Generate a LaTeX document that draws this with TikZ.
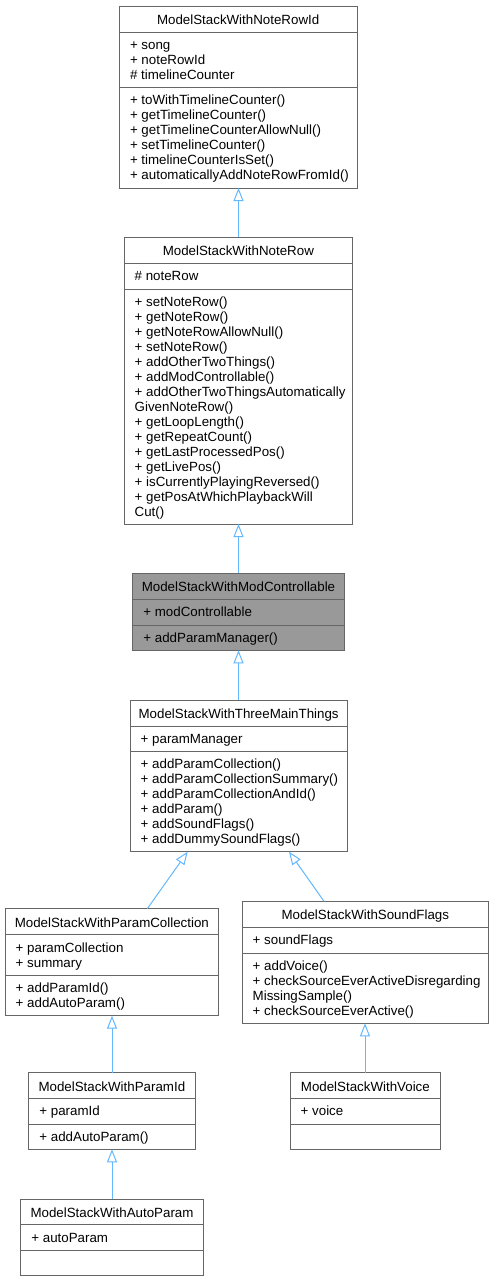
\documentclass[tikz,border=0pt]{standalone}
\usepackage{fontspec}
\usetikzlibrary{arrows.meta}
\newfontfamily\cfontfam{Liberation Sans}
\newcommand\cfont{\cfontfam\fontsize{13.33}{15}\selectfont}
\definecolor{boxgray}{HTML}{666666}
\definecolor{hlfill}{HTML}{999999}
\definecolor{edgeblue}{HTML}{63B8FF}
\begin{document}
\begin{tikzpicture}[x=1pt,y=-1pt,
  cbox/.style={draw=boxgray, line width=1pt, inner sep=0pt, outer sep=0pt, anchor=north west},
  divider/.style={draw=boxgray, line width=1pt},
  ctitle/.style={anchor=base, inner sep=0pt, font=\cfont, text=black},
  member/.style={anchor=base west, inner sep=0pt, font=\cfont, text=black},
  inh/.style={draw=edgeblue, line width=1pt, -{Triangle[open, fill=white, length=13pt, width=10pt]}}]
\useasboundingbox (0,0) rectangle (494,1282);
\fill[white] (0,0) rectangle (494,1282);

% ---------- B1 ModelStackWithNoteRowId
\node[cbox, minimum width=237.7pt, minimum height=182pt, fill=white] (b1) at (119.3,6) {};
\draw[divider] (119.3,32) -- (357,32);
\draw[divider] (119.3,87) -- (357,87);
\node[ctitle] (b1t) at (238.15,24.5) {ModelStackWithNoteRowId};
\node[member] (b1a1) at (129.8,49.5) {+ song};
\node[member] (b1a2) at (129.8,64.5) {+ noteRowId};
\node[member] (b1a3) at (129.8,79.5) {\# timelineCounter};
\node[member] (b1m1) at (129.8,104.5) {+ toWithTimelineCounter()};
\node[member] (b1m2) at (129.8,119.5) {+ getTimelineCounter()};
\node[member] (b1m3) at (129.8,134.5) {+ getTimelineCounterAllowNull()};
\node[member] (b1m4) at (129.8,149.5) {+ setTimelineCounter()};
\node[member] (b1m5) at (129.8,164.5) {+ timelineCounterIsSet()};
\node[member] (b1m6) at (129.8,179.5) {+ automaticallyAddNoteRowFromId()};

% ---------- B2 ModelStackWithNoteRow
\node[cbox, minimum width=228.7pt, minimum height=286.7pt, fill=white] (b2) at (124,237.3) {};
\draw[divider] (124,263.3) -- (352.7,263.3);
\draw[divider] (124,289) -- (352.7,289);
\node[ctitle] (b2t) at (238.35,255.8) {ModelStackWithNoteRow};
\node[member] (b2a1) at (134.5,280.8) {\# noteRow};
\node[member] (b2m1) at (134.5,306.5) {+ setNoteRow()};
\node[member] (b2m2) at (134.5,321.5) {+ getNoteRow()};
\node[member] (b2m3) at (134.5,336.5) {+ getNoteRowAllowNull()};
\node[member] (b2m4) at (134.5,351.5) {+ setNoteRow()};
\node[member] (b2m5) at (134.5,366.5) {+ addOtherTwoThings()};
\node[member] (b2m6) at (134.5,381.5) {+ addModControllable()};
\node[member] (b2m7) at (134.5,396.5) {+ addOtherTwoThingsAutomatically};
\node[member] (b2m8) at (134.5,411.5) {GivenNoteRow()};
\node[member] (b2m9) at (134.5,426.5) {+ getLoopLength()};
\node[member] (b2m10) at (134.5,441.5) {+ getRepeatCount()};
\node[member] (b2m11) at (134.5,456.5) {+ getLastProcessedPos()};
\node[member] (b2m12) at (134.5,471.5) {+ getLivePos()};
\node[member] (b2m13) at (134.5,486.5) {+ isCurrentlyPlayingReversed()};
\node[member] (b2m14) at (134.5,501.5) {+ getPosAtWhichPlaybackWill};
\node[member] (b2m15) at (134.5,516.5) {Cut()};

% ---------- B3 ModelStackWithModControllable (highlighted)
\node[cbox, minimum width=211.6pt, minimum height=77pt, fill=hlfill] (b3) at (132.7,573.3) {};
\draw[divider] (132.7,599.3) -- (344.3,599.3);
\draw[divider] (132.7,625.3) -- (344.3,625.3);
\node[ctitle] (b3t) at (238.5,591.8) {ModelStackWithModControllable};
\node[member] (b3a1) at (143.2,616.8) {+ modControllable};
\node[member] (b3m1) at (143.2,642.8) {+ addParamManager()};

% ---------- B4 ModelStackWithThreeMainThings
\node[cbox, minimum width=217.3pt, minimum height=151.7pt, fill=white] (b4) at (130,700) {};
\draw[divider] (130,726) -- (347.3,726);
\draw[divider] (130,751) -- (347.3,751);
\node[ctitle] (b4t) at (238.65,718.5) {ModelStackWithThreeMainThings};
\node[member] (b4a1) at (140.5,743.5) {+ paramManager};
\node[member] (b4m1) at (140.5,768.5) {+ addParamCollection()};
\node[member] (b4m2) at (140.5,783.5) {+ addParamCollectionSummary()};
\node[member] (b4m3) at (140.5,798.5) {+ addParamCollectionAndId()};
\node[member] (b4m4) at (140.5,813.5) {+ addParam()};
\node[member] (b4m5) at (140.5,828.5) {+ addSoundFlags()};
\node[member] (b4m6) at (140.5,843.5) {+ addDummySoundFlags()};

% ---------- B5 ModelStackWithParamCollection
\node[cbox, minimum width=213.7pt, minimum height=107pt, fill=white] (b5) at (5,908.7) {};
\draw[divider] (5,934.7) -- (218.7,934.7);
\draw[divider] (5,975.3) -- (218.7,975.3);
\node[ctitle] (b5t) at (111.85,927.2) {ModelStackWithParamCollection};
\node[member] (b5a1) at (15.5,952.2) {+ paramCollection};
\node[member] (b5a2) at (15.5,967.2) {+ summary};
\node[member] (b5m1) at (15.5,992.8) {+ addParamId()};
\node[member] (b5m2) at (15.5,1007.8) {+ addAutoParam()};

% ---------- B6 ModelStackWithSoundFlags
\node[cbox, minimum width=246.7pt, minimum height=122pt, fill=white] (b6) at (242,901.3) {};
\draw[divider] (242,927.3) -- (488.7,927.3);
\draw[divider] (242,953) -- (488.7,953);
\node[ctitle] (b6t) at (365.35,919.8) {ModelStackWithSoundFlags};
\node[member] (b6a1) at (252.5,944.8) {+ soundFlags};
\node[member] (b6m1) at (252.5,970.5) {+ addVoice()};
\node[member] (b6m2) at (252.5,985.5) {+ checkSourceEverActiveDisregarding};
\node[member] (b6m3) at (252.5,1000.5) {MissingSample()};
\node[member] (b6m4) at (252.5,1015.5) {+ checkSourceEverActive()};

% ---------- B7 ModelStackWithParamId
\node[cbox, minimum width=166.3pt, minimum height=76.6pt, fill=white] (b7) at (28.7,1072.7) {};
\draw[divider] (28.7,1098.3) -- (195,1098.3);
\draw[divider] (28.7,1124) -- (195,1124);
\node[ctitle] (b7t) at (111.85,1091.2) {ModelStackWithParamId};
\node[member] (b7a1) at (39.2,1115.8) {+ paramId};
\node[member] (b7m1) at (39.2,1141.5) {+ addAutoParam()};

% ---------- B8 ModelStackWithVoice
\node[cbox, minimum width=150.7pt, minimum height=76.6pt, fill=white] (b8) at (290,1072.7) {};
\draw[divider] (290,1098.3) -- (440.7,1098.3);
\draw[divider] (290,1124) -- (440.7,1124);
\node[ctitle] (b8t) at (365.35,1091.2) {ModelStackWithVoice};
\node[member] (b8a1) at (300.5,1115.8) {+ voice};

% ---------- B9 ModelStackWithAutoParam
\node[cbox, minimum width=182.6pt, minimum height=76.7pt, fill=white] (b9) at (20.7,1199) {};
\draw[divider] (20.7,1224.7) -- (203.3,1224.7);
\draw[divider] (20.7,1250) -- (203.3,1250);
\node[ctitle] (b9t) at (112,1217.5) {ModelStackWithAutoParam};
\node[member] (b9a1) at (31.2,1242.2) {+ autoParam};

% ---------- inheritance connectors
\coordinate (e2s) at (238.5,237.3);
\coordinate (e2t) at (238.5,188);
\draw[inh] (e2s) -- (e2t);
\coordinate (e3s) at (238.5,573.3);
\coordinate (e3t) at (238.5,524);
\draw[inh] (e3s) -- (e3t);
\coordinate (e4s) at (238.5,700);
\coordinate (e4t) at (238.5,650.3);
\draw[inh] (e4s) -- (e4t);
\coordinate (e5s) at (147.3,908.7);
\coordinate (e5t) at (187.7,851.7);
\draw[inh] (e5s) -- (e5t);
\coordinate (e6s) at (324,901.3);
\coordinate (e6t) at (289,851.7);
\draw[inh] (e6s) -- (e6t);
\coordinate (e7s) at (112,1072.7);
\coordinate (e7t) at (112,1015.7);
\draw[inh] (e7s) -- (e7t);
\coordinate (e8s) at (365,1072.7);
\coordinate (e8t) at (365,1023.3);
\draw[inh] (e8s) -- (e8t);
\coordinate (e9s) at (112,1199);
\coordinate (e9t) at (112,1149.3);
\draw[inh] (e9s) -- (e9t);
\end{tikzpicture}
\end{document}
